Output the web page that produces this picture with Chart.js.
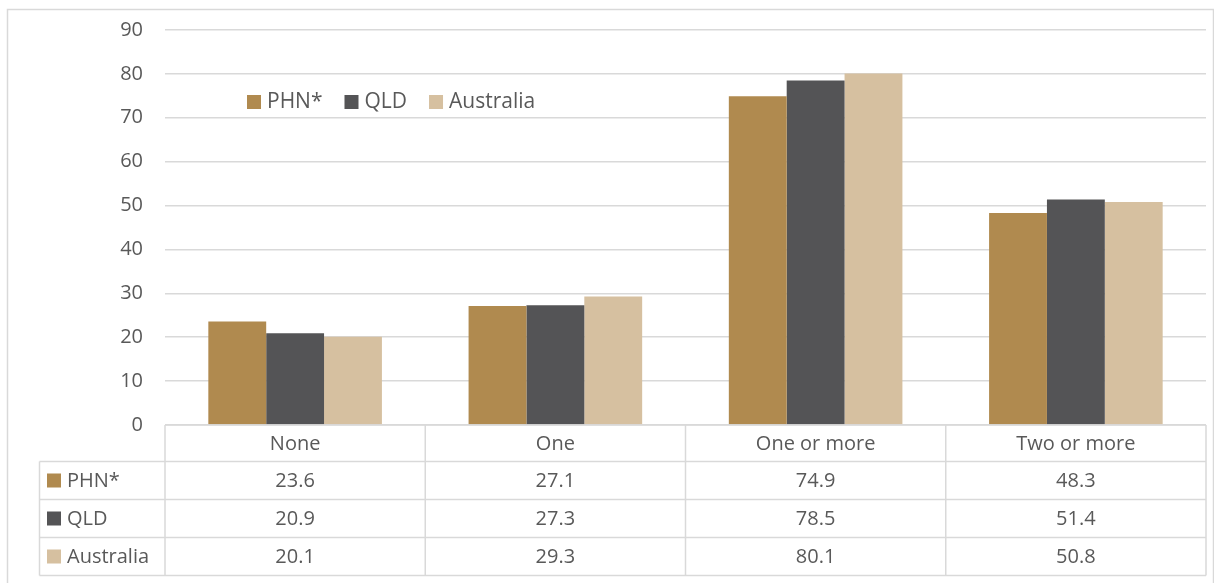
<!DOCTYPE html>
<html>
<head>
<meta charset="utf-8">
<script src="https://cdn.jsdelivr.net/npm/chart.js@4.4.0/dist/chart.umd.min.js"></script>
<style>
  html, body { margin: 0; padding: 0; background: #fff; }
  #wrap { width: 1214px; height: 583px; position: relative; }
</style>
</head>
<body>
<div id="wrap"><canvas id="chart" width="1214" height="583"></canvas></div>
<script>
// Data
const categories = ['None', 'One', 'One or more', 'Two or more'];
const seriesNames = ['PHN*', 'QLD', 'Australia'];
const phnValues = [23.6, 27.1, 74.9, 48.3];
const qldValues = [20.9, 27.3, 78.5, 51.4];
const ausValues = [20.1, 29.3, 80.1, 50.8];
const seriesColors = ['#B08A4F', '#545456', '#D6C0A0'];

const FONT = '"Open Sans", "Noto Sans", sans-serif';
const TEXT = '#595959';
const LINE = '#D9D9D9';

// Outer frame
const framePlugin = {
    id: 'frame',
    beforeDraw(chart) {
        const ctx = chart.ctx;
        ctx.save();
        ctx.fillStyle = '#fff';
        ctx.fillRect(0, 0, chart.width, chart.height);
        ctx.strokeStyle = LINE;
        ctx.lineWidth = 1.5;
        ctx.strokeRect(7.5, 9.5, 1206, 580);
        ctx.restore();
    }
};

// Legend inside the plot area
const innerLegend = {
    id: 'innerLegend',
    afterDatasetsDraw(chart) {
        const ctx = chart.ctx;
        ctx.save();
        ctx.font = '21px ' + FONT;
        ctx.textBaseline = 'middle';
        let x = 247;
        const y = 102;
        chart.data.datasets.forEach(ds => {
            ctx.fillStyle = ds.backgroundColor;
            ctx.fillRect(x, y - 7, 14, 14);
            ctx.fillStyle = TEXT;
            ctx.fillText(ds.label, x + 20, y);
            x += 20 + ctx.measureText(ds.label).width + 22;
        });
        ctx.restore();
    }
};

// Data table under the axis
const dataTable = {
    id: 'dataTable',
    afterDraw(chart) {
        const ctx = chart.ctx;
        const area = chart.chartArea;
        const x = chart.scales.x;
        const n = categories.length;
        const colW = (area.right - area.left) / n;
        const top = area.bottom;
        const headH = 36.5;
        const rowH = 38;
        const legendLeft = 39.5;
        const bottom = top + headH + rowH * seriesNames.length;

        ctx.save();
        ctx.strokeStyle = LINE;
        ctx.lineWidth = 1.5;
        // horizontal lines
        ctx.beginPath();
        ctx.moveTo(area.left, top);
        ctx.lineTo(area.right, top);
        for (let r = 0; r <= seriesNames.length; r++) {
            const yy = top + headH + rowH * r;
            ctx.moveTo(legendLeft, yy);
            ctx.lineTo(area.right, yy);
        }
        // vertical lines
        for (let c = 0; c <= n; c++) {
            const xx = area.left + colW * c;
            ctx.moveTo(xx, top);
            ctx.lineTo(xx, bottom);
        }
        ctx.moveTo(legendLeft, top + headH);
        ctx.lineTo(legendLeft, bottom);
        ctx.stroke();

        ctx.font = '20px ' + FONT;
        ctx.fillStyle = TEXT;
        ctx.textAlign = 'center';
        ctx.textBaseline = 'middle';
        categories.forEach((c, i) => {
            ctx.fillText(c, x.getPixelForValue(i), top + headH / 2 + 1);
        });
        chart.data.datasets.forEach((ds, r) => {
            const yy = top + headH + rowH * r + rowH / 2 + 1;
            ds.data.forEach((v, i) => {
                ctx.fillStyle = TEXT;
                ctx.textAlign = 'center';
                ctx.fillText(v.toFixed(1), x.getPixelForValue(i), yy);
            });
            ctx.fillStyle = ds.backgroundColor;
            ctx.fillRect(47, yy - 8, 14, 14);
            ctx.fillStyle = TEXT;
            ctx.textAlign = 'left';
            ctx.fillText(ds.label, 67, yy);
        });
        ctx.restore();
    }
};

const valueSets = [phnValues, qldValues, ausValues];

new Chart(document.getElementById('chart').getContext('2d'), {
    type: 'bar',
    data: {
        labels: categories,
        datasets: seriesNames.map((name, i) => ({
            label: name,
            data: valueSets[i],
            backgroundColor: seriesColors[i],
            borderWidth: 0,
            categoryPercentage: 0.667,
            barPercentage: 1.0
        }))
    },
    options: {
        responsive: false,
        animation: false,
        layout: {
            padding: { top: 30, bottom: 158, right: 8, left: 0 }
        },
        plugins: {
            legend: { display: false },
            tooltip: { enabled: false }
        },
        scales: {
            x: {
                display: false
            },
            y: {
                min: 0,
                max: 90,
                afterFit(scale) {
                    scale.width = 165;
                    // keep the label padding from pushing the plot top down
                    scale.paddingTop = 0;
                    scale.paddingBottom = 0;
                },
                border: { display: false },
                grid: {
                    color: LINE,
                    lineWidth: 1.5,
                    drawTicks: false
                },
                ticks: {
                    stepSize: 10,
                    padding: 22,
                    color: TEXT,
                    font: { family: FONT, size: 20 }
                }
            }
        }
    },
    plugins: [framePlugin, innerLegend, dataTable]
});
</script>
</body>
</html>
